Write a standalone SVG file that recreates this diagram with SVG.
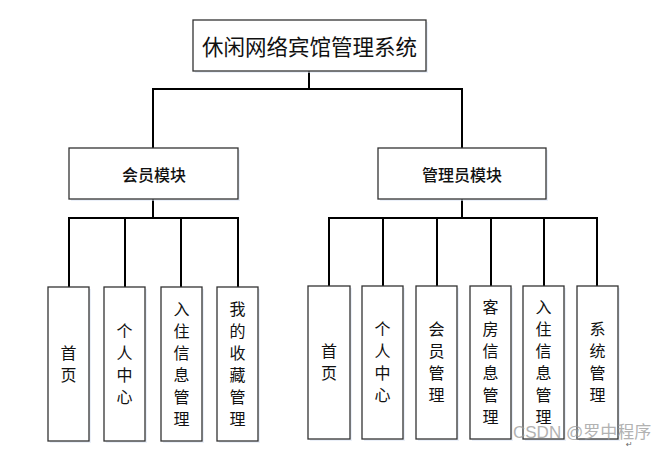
<svg xmlns="http://www.w3.org/2000/svg" width="665" height="450" viewBox="0 0 665 450">
<style>
.box{fill:#fff;stroke:#333;stroke-width:1.3}
.sh{fill:#dde6f5;opacity:0.6}
.ln{stroke:#000;stroke-width:2;fill:none}
.t{font-family:"Noto Sans CJK SC","Noto Sans",sans-serif;fill:#111;text-anchor:middle;dominant-baseline:central}
.v{font-size:16px}
.m{font-size:16px;font-weight:500}
.wm{font-family:"Liberation Sans","Noto Sans CJK SC",sans-serif;font-size:17px;fill:#999;opacity:0.75}
</style>
<rect width="665" height="450" fill="#fff"/>
<g id="connectors">
<path class="ln" d="M309 71V89M153 89H463M153 88V148M462 88V148"/>
<path class="ln" d="M153 199V218M69 218H238M69 217V287M125 217V287M181 217V287M238 217V287"/>
<path class="ln" d="M462 199V218M329 218H597M329 217V286M383 217V286M437 217V286M491 217V286M544 217V286M597 217V286"/>
</g>
<g id="root">
<rect class="sh" x="195" y="22" width="233" height="51"/>
<rect class="box" x="193" y="20" width="233" height="51"/>
<text class="t" x="309.5" y="45.5" font-size="21.5">休闲网络宾馆管理系统</text>
</g>
<g id="member">
<rect class="sh" x="71" y="150" width="169" height="51"/>
<rect class="box" x="69" y="148" width="169" height="51"/>
<text class="t m" x="154" y="173.5">会员模块</text>
</g>
<g id="admin">
<rect class="sh" x="380" y="150" width="168" height="51"/>
<rect class="box" x="378" y="148" width="168" height="51"/>
<text class="t m" x="462" y="173.5">管理员模块</text>
</g>
<g id="m1"><rect class="sh" x="50" y="289" width="41" height="154"/><rect class="box" x="48" y="287" width="41" height="154"/>
<text class="t v" x="68.5"><tspan x="68.5" y="352">首</tspan><tspan x="68.5" y="374">页</tspan></text></g>
<g id="m2"><rect class="sh" x="106" y="289" width="41" height="154"/><rect class="box" x="104" y="287" width="41" height="154"/>
<text class="t v"><tspan x="124.5" y="330">个</tspan><tspan x="124.5" y="352">人</tspan><tspan x="124.5" y="374">中</tspan><tspan x="124.5" y="396">心</tspan></text></g>
<g id="m3"><rect class="sh" x="163" y="289" width="41" height="154"/><rect class="box" x="161" y="287" width="41" height="154"/>
<text class="t v"><tspan x="181.5" y="308">入</tspan><tspan x="181.5" y="330">住</tspan><tspan x="181.5" y="352">信</tspan><tspan x="181.5" y="374">息</tspan><tspan x="181.5" y="396">管</tspan><tspan x="181.5" y="418">理</tspan></text></g>
<g id="m4"><rect class="sh" x="219" y="289" width="41" height="154"/><rect class="box" x="217" y="287" width="41" height="154"/>
<text class="t v"><tspan x="237.5" y="308">我</tspan><tspan x="237.5" y="330">的</tspan><tspan x="237.5" y="352">收</tspan><tspan x="237.5" y="374">藏</tspan><tspan x="237.5" y="396">管</tspan><tspan x="237.5" y="418">理</tspan></text></g>
<g id="a1"><rect class="sh" x="310" y="288" width="42" height="153"/><rect class="box" x="308" y="286" width="42" height="153"/>
<text class="t v"><tspan x="329" y="350">首</tspan><tspan x="329" y="372">页</tspan></text></g>
<g id="a2"><rect class="sh" x="364" y="288" width="41" height="153"/><rect class="box" x="362" y="286" width="41" height="153"/>
<text class="t v"><tspan x="382.5" y="328">个</tspan><tspan x="382.5" y="350">人</tspan><tspan x="382.5" y="372">中</tspan><tspan x="382.5" y="394">心</tspan></text></g>
<g id="a3"><rect class="sh" x="418" y="288" width="41" height="153"/><rect class="box" x="416" y="286" width="41" height="153"/>
<text class="t v"><tspan x="436.5" y="328">会</tspan><tspan x="436.5" y="350">员</tspan><tspan x="436.5" y="372">管</tspan><tspan x="436.5" y="394">理</tspan></text></g>
<g id="a4"><rect class="sh" x="472" y="288" width="41" height="153"/><rect class="box" x="470" y="286" width="41" height="153"/>
<text class="t v"><tspan x="490.5" y="306">客</tspan><tspan x="490.5" y="328">房</tspan><tspan x="490.5" y="350">信</tspan><tspan x="490.5" y="372">息</tspan><tspan x="490.5" y="394">管</tspan><tspan x="490.5" y="416">理</tspan></text></g>
<g id="a5"><rect class="sh" x="525" y="288" width="41" height="153"/><rect class="box" x="523" y="286" width="41" height="153"/>
<text class="t v"><tspan x="543.5" y="306">入</tspan><tspan x="543.5" y="328">住</tspan><tspan x="543.5" y="350">信</tspan><tspan x="543.5" y="372">息</tspan><tspan x="543.5" y="394">管</tspan><tspan x="543.5" y="416">理</tspan></text></g>
<g id="a6"><rect class="sh" x="579" y="288" width="41" height="153"/><rect class="box" x="577" y="286" width="41" height="153"/>
<text class="t v"><tspan x="597.5" y="328">系</tspan><tspan x="597.5" y="350">统</tspan><tspan x="597.5" y="372">管</tspan><tspan x="597.5" y="394">理</tspan></text></g>
<text class="wm" x="513" y="438">CSDN @罗中程序</text>
<text x="626" y="447" font-family="DejaVu Sans,sans-serif" font-size="8" fill="#666">↵</text>
</svg>
